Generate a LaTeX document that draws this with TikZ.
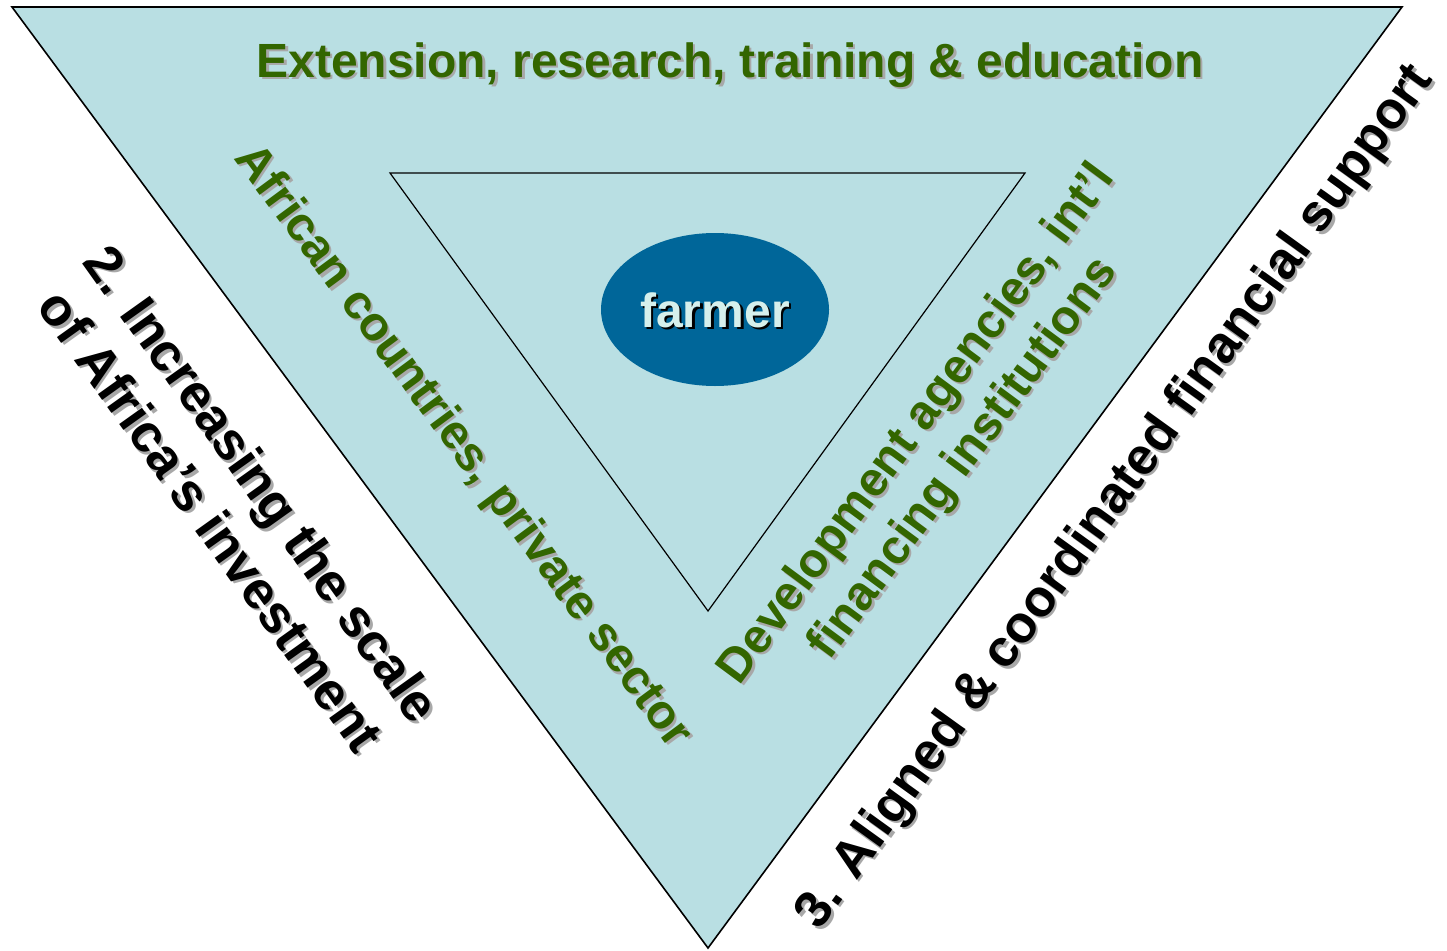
\documentclass[tikz,border=0pt]{standalone}
\usepackage{fontspec}
\setmainfont{Liberation Sans}
\usetikzlibrary{calc,shapes.geometric}
\definecolor{panel}{HTML}{B9DFE3}
\definecolor{leaf}{HTML}{336600}
\definecolor{farmerblue}{HTML}{006699}
\definecolor{farmertext}{HTML}{D6F0EC}
\definecolor{shade}{HTML}{A8A8A8}
\newcommand{\shadowed}[5]{%
  \node[#1, text=#2] (#3-s) at ($#4+(2.5,2.5)$) {#5};
  \node[#1] (#3) at #4 {#5};}
\begin{document}
\begin{tikzpicture}[x=1pt,y=-1pt,
  tri/.style={draw=black, fill=panel, line join=miter},
  greenlbl/.style={font=\fontsize{48}{58}\selectfont\bfseries, text=leaf, align=center, inner sep=0pt},
  blacklbl/.style={font=\fontsize{53}{63}\selectfont\bfseries, text=black, align=center, inner sep=0pt},
  farmerlbl/.style={font=\fontsize{48}{58}\selectfont\bfseries, text=farmertext, inner sep=0pt}]
\useasboundingbox (0,0) rectangle (1447,950);
\fill[white] (0,0) rectangle (1447,950);
% outer triangle
\coordinate (o1) at (12,7);
\coordinate (o2) at (1402,7);
\coordinate (o3) at (708,948);
\draw[tri, line width=1.6pt] (o1) -- (o2) -- (o3) -- cycle;
% inner triangle
\coordinate (i1) at (390,173);
\coordinate (i2) at (1025,173);
\coordinate (i3) at (708,611);
\draw[tri, line width=1.2pt] (i1) -- (i2) -- (i3) -- cycle;
% farmer
\node[ellipse, draw=none, fill=farmerblue, minimum width=228pt, minimum height=153pt, inner sep=0pt] (farmerell) at (715,309.5) {};
\shadowed{farmerlbl}{black}{farmer}{(715,310)}{farmer}
% top label
\shadowed{greenlbl}{shade}{top}{(730,65)}{Extension, research, training \& education}
% left inner label
\shadowed{greenlbl, rotate=-53.5}{shade}{african}{(462,447)}{African countries, private sector}
% right inner label
\shadowed{greenlbl, rotate=53.5}{shade}{devel}{(941,442)}{Development agencies, int’l\\financing institutions}
% outer left label
\shadowed{blacklbl, rotate=-54.5}{shade}{scale}{(237,502)}{2. Increasing the scale\\of Africa’s investment}
% outer right label
\shadowed{blacklbl, rotate=54.2, font=\fontsize{52}{62}\selectfont\bfseries}{shade}{aligned}{(1116,498)}{3. Aligned \& coordinated financial support}
\end{tikzpicture}
\end{document}
